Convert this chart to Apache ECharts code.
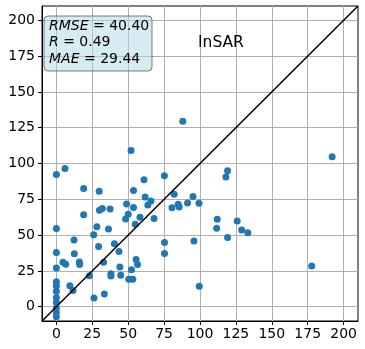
<!DOCTYPE html>
<html>
<head>
<meta charset="utf-8">
<script src="https://cdn.jsdelivr.net/npm/echarts@6/dist/echarts.min.js"></script>
<style>
  html, body { margin: 0; padding: 0; background: #fff; }
  #chart { width: 365px; height: 349px; }
</style>
</head>
<body>
<div id="chart"></div>
<script>
// observed (x) vs InSAR estimate (y)
var obsX = [
    0, 0, 0, 0, 0, 0, 0, 0, 0, 0, 0, 0,
    6, 52, 61, 75.2, 88, 192,
    19, 29.8, 19, 30, 32, 37.4, 28.2, 26, 36.3, 29.4, 12.3, 12.5,
    4.6, 6.5, 16, 16.2, 9.4, 11.6, 23, 26.2, 33.4, 32.9, 40.4, 43.6, 44.2, 38, 38, 44.8, 50.4, 53.2, 52.3, 55.5, 56.5,
    48.2, 50, 48.9, 53.7, 53.7, 54.9, 58.2, 61.8, 63.7, 65.8, 68, 75.3, 75.3, 82, 80.5, 84.8, 85.5, 91.3, 95.1, 99.3,
    119.2, 118, 112, 111.6, 125.9, 129, 133.3, 119.2, 95.8, 99.5, 177.8
];
var estY = [
    92.3, 54.6, 37.8, 27, 17.5, 14.5, 10.8, 6.5, 3, -1, -4, -7,
    96.5, 109, 88.7, 91.5, 129.5, 104.8,
    82.5, 80.6, 64.2, 67.3, 68.6, 68.3, 55.8, 50.2, 54.2, 42, 46.5, 37,
    31, 29.6, 31.2, 29.4, 14.7, 11.3, 21.6, 6.1, 8.9, 31, 44, 38.6, 27.7, 23, 21.4, 22, 19.2, 19.2, 25.8, 33, 29.4,
    61.3, 64.6, 71.8, 69.2, 81.1, 57.6, 62.5, 76.6, 71.1, 73.8, 61.6, 44.8, 37.1, 78.6, 69.1, 71.6, 69.6, 72.5, 77, 72.3,
    95, 90.6, 61, 54.7, 59.9, 53.5, 51.6, 48.4, 45.8, 14.3, 28.4
];
var tickVals = [0, 25, 50, 75, 100, 125, 150, 175, 200];
var oneToOne = [[-10, -10], [210, 210]];
var statLines = [['RMSE', '40.40'], ['R', '0.49'], ['MAE', '29.44']];
var panelName = 'InSAR';

var points = obsX.map(function (x, i) { return [x, estY[i]]; });

var chart = echarts.init(document.getElementById('chart'));

function axisCfg(isY) {
    return {
        type: 'value',
        min: -10,
        max: 210,
        axisLine: { show: true, onZero: false, lineStyle: { color: '#000', width: 1 } },
        axisTick: { show: true, length: 4, customValues: tickVals, lineStyle: { color: '#000' } },
        axisLabel: {
            customValues: tickVals,
            color: '#000',
            fontSize: 14,
            fontFamily: 'DejaVu Sans',
            margin: isY ? 7 : 6
        },
        splitLine: { show: true, lineStyle: { color: '#b0b0b0', width: 1 } }
    };
}

var yOffsets = [26, 42.5, 59];
var graphics = [{
    type: 'rect',
    shape: { x: 44, y: 16, width: 108, height: 55, r: 4 },
    style: { fill: 'rgba(173,216,230,0.5)', stroke: 'rgba(0,0,0,0.5)', lineWidth: 1 },
    z: 10
}];
statLines.forEach(function (s, i) {
    graphics.push({
        type: 'text',
        x: 49, y: yOffsets[i],
        style: {
            text: '{i|' + s[0] + '}{n| = ' + s[1] + '}',
            rich: {
                i: { fontStyle: 'italic', fontSize: 14, fontFamily: 'DejaVu Sans', fill: '#000' },
                n: { fontSize: 14, fontFamily: 'DejaVu Sans', fill: '#000' }
            },
            verticalAlign: 'middle'
        },
        z: 11
    });
});
graphics.push({
    type: 'text',
    x: 198, y: 42.5,
    style: { text: panelName, fontSize: 15.5, fontFamily: 'DejaVu Sans', fill: '#000', verticalAlign: 'middle' },
    z: 11
});

var option = {
    animation: false,
    grid: { left: 42, top: 6, right: 7, bottom: 28, show: true, borderColor: '#000', borderWidth: 1, containLabel: false },
    xAxis: axisCfg(false),
    yAxis: axisCfg(true),
    series: [
        {
            type: 'scatter',
            data: points,
            symbolSize: 7,
            itemStyle: { color: '#1f77b4', opacity: 1 },
            z: 2
        },
        {
            type: 'line',
            data: oneToOne,
            showSymbol: false,
            lineStyle: { color: '#000', width: 1.5 },
            z: 3
        }
    ],
    graphic: graphics
};
chart.setOption(option);
</script>
</body>
</html>
